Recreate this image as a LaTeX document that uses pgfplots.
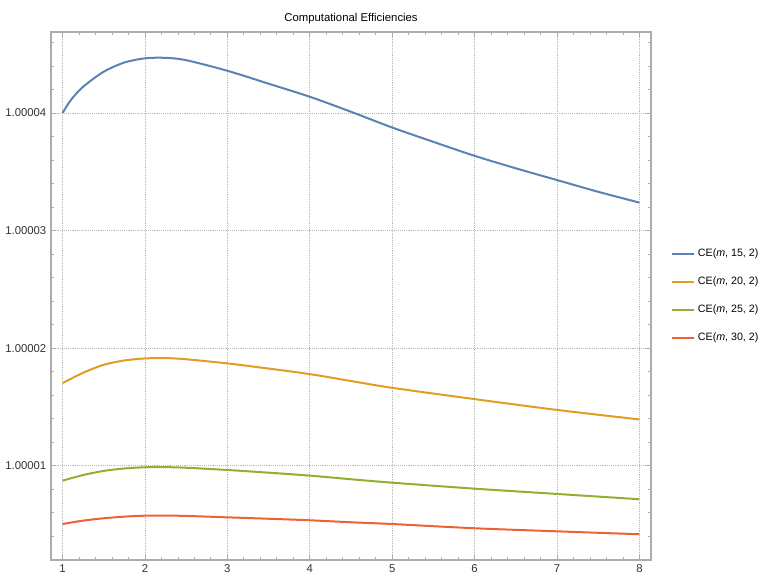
\documentclass[border=0pt]{standalone}
\usepackage{pgfplots}
\pgfplotsset{compat=1.18}
\usepackage{fontspec}
\setmainfont{Liberation Sans}
\definecolor{mblue}{rgb}{0.368417,0.506779,0.709798}
\definecolor{morange}{rgb}{0.880722,0.611041,0.142051}
\definecolor{mgreen}{rgb}{0.560181,0.691569,0.194885}
\definecolor{mred}{rgb}{0.922526,0.385626,0.209179}
\begin{document}
\begin{tikzpicture}
% y values are (CE - 1) * 10^5
\begin{axis}[
  scale only axis, width=450pt, height=396pt,
  xmin=0.86, xmax=8.14, ymin=0.197, ymax=4.69,
  xtick={1,2,3,4,5,6,7,8},
  minor xtick={1.2,1.4,1.6,1.8,2.2,2.4,2.6,2.8,3.2,3.4,3.6,3.8,4.2,4.4,4.6,4.8,5.2,5.4,5.6,5.8,6.2,6.4,6.6,6.8,7.2,7.4,7.6,7.8},
  ytick={1,2,3,4},
  yticklabels={1.00001,1.00002,1.00003,1.00004},
  minor ytick={0.2,0.4,0.6,0.8,1.2,1.4,1.6,1.8,2.2,2.4,2.6,2.8,3.2,3.4,3.6,3.8,4.2,4.4,4.6},
  grid=major,
  major grid style={densely dotted, gray!55, line width=0.5pt},
  minor grid style={draw=none},
  tick align=inside, tick pos=both,
  major tick length=4pt, minor tick length=2.5pt,
  axis line style={gray!65, line width=0.9pt},
  every tick/.style={gray!65, line width=0.6pt},
  tick label style={font=\fontsize{8.5}{10}\selectfont, text=black!80},
  /pgf/number format/assume math mode=true,
  title={Computational Efficiencies},
  title style={font=\fontsize{8.5}{10}\selectfont, at={(0.5,1)}, anchor=base, yshift=1.5pt},
  legend style={at={(1,0.5)}, anchor=west, xshift=12pt, draw=none, fill=none,
    font=\fontsize{8}{10}\selectfont, row sep=12.5pt, column sep=2.5pt,
    nodes={inner sep=0pt, text height=6.5pt, text depth=2pt}},
  legend cell align=left,
  legend image code/.code={\draw[#1] (0pt,0pt) -- (16pt,0pt);},
]
\addplot[mblue, line width=1.5pt, smooth, tension=0.5] coordinates {
(1,4.00) (1.1,4.11) (1.25,4.224) (1.5,4.352) (1.75,4.43) (2,4.466) (2.25,4.47) (2.5,4.45) (3,4.36) (3.5,4.25) (4,4.139) (4.5,4.011) (5,3.877) (5.5,3.755) (6,3.636) (6.5,3.53) (7,3.43) (7.5,3.33) (8,3.238)};
\addlegendentry{CE(\textit{m}, 15, 2)}
\addplot[morange, line width=1.5pt, smooth, tension=0.5] coordinates {
(1,1.702) (1.25,1.79) (1.5,1.858) (1.75,1.895) (2,1.912) (2.25,1.915) (2.5,1.905) (3,1.87) (3.5,1.826) (4,1.779) (4.5,1.72) (5,1.662) (6,1.566) (7,1.474) (8,1.393)};
\addlegendentry{CE(\textit{m}, 20, 2)}
\addplot[mgreen, line width=1.5pt, smooth, tension=0.5] coordinates {
(1,0.872) (1.25,0.92) (1.5,0.955) (1.75,0.976) (2,0.986) (2.25,0.987) (2.5,0.982) (3,0.963) (3.5,0.94) (4,0.915) (4.5,0.884) (5,0.855) (6,0.804) (7,0.759) (8,0.714)};
\addlegendentry{CE(\textit{m}, 25, 2)}
\addplot[mred, line width=1.5pt, smooth, tension=0.5] coordinates {
(1,0.503) (1.25,0.532) (1.5,0.552) (1.75,0.566) (2,0.574) (2.25,0.575) (2.5,0.572) (3,0.56) (3.5,0.548) (4,0.535) (4.5,0.518) (5,0.503) (6,0.467) (7,0.441) (8,0.416)};
\addlegendentry{CE(\textit{m}, 30, 2)}
\coordinate (bl) at (rel axis cs:0,0);
\coordinate (tr) at (rel axis cs:1,1);
\end{axis}
\pgfresetboundingbox
\path[use as bounding box] ([shift={(-38.25pt,-11.25pt)}]bl) rectangle ([shift={(80.25pt,24pt)}]tr);
\end{tikzpicture}
\end{document}
